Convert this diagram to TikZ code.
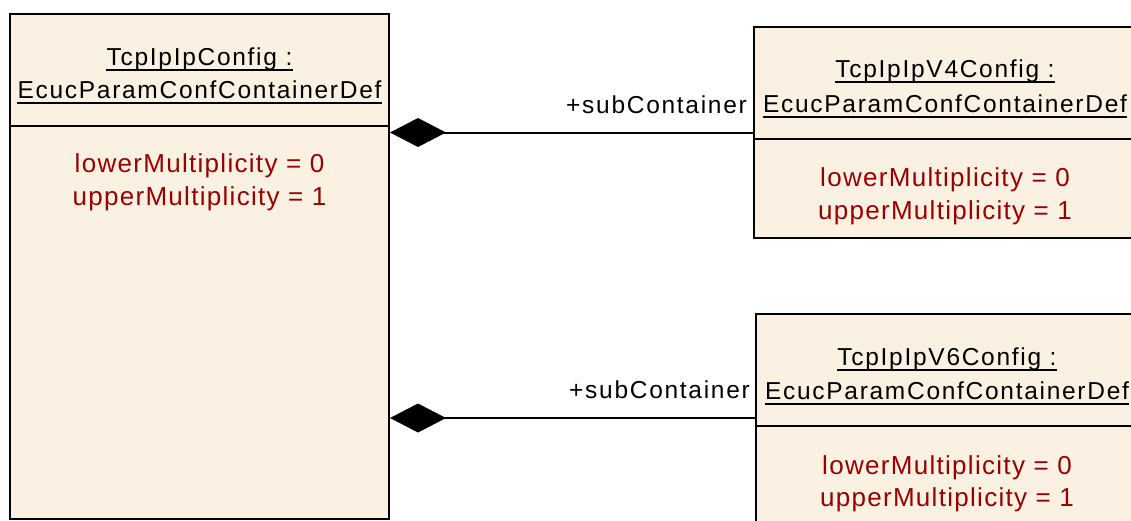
\documentclass[tikz,border=0pt]{standalone}
\usepackage{fontspec}
\setmainfont{Liberation Sans}[LetterSpace=7]
\newfontfamily\attrfont{Liberation Sans}[LetterSpace=5]
\usetikzlibrary{arrows.meta,calc}
\definecolor{boxfill}{RGB}{251,241,226}
\definecolor{attrred}{RGB}{150,0,0}
\tikzset{
  classbox/.style={draw=black, line width=2pt, fill=boxfill, rectangle, inner sep=0pt, anchor=north west},
  titletext/.style={anchor=base, inner sep=0pt, font=\fontsize{24.5}{28}\selectfont, text=black},
  attrtext/.style={anchor=base, inner sep=0pt, font=\attrfont\fontsize{26}{30}\selectfont, text=attrred},
  uline/.style={line width=1.5pt},
  sepline/.style={line width=2pt},
  comp/.style={line width=2pt, {Diamond[length=56pt,width=29pt]}-},
  rolelabel/.style={anchor=base east, inner sep=0pt, font=\fontsize{24.5}{28}\selectfont, text=black},
}
\begin{document}
\begin{tikzpicture}[x=1pt,y=-1pt]
\useasboundingbox (0,0) rectangle (1131,520);
\fill[white] (0,0) rectangle (1131,520);

% left class
\node[classbox, minimum width=379pt, minimum height=505pt] (L) at (9,13) {};
\draw[sepline] ([yshift=-113pt]L.north west) -- ([yshift=-113pt]L.north east);
\node[titletext] (Lt1) at ([yshift=-52pt]L.north) {TcpIpIpConfig :};
\node[titletext] (Lt2) at ([yshift=-85pt]L.north) {EcucParamConfContainerDef};
\draw[uline] ([yshift=-5pt]Lt1.base west) -- ([yshift=-5pt]Lt1.base east);
\draw[uline] ([yshift=-5pt]Lt2.base west) -- ([yshift=-5pt]Lt2.base east);
\node[attrtext] (La1) at ([yshift=-159pt]L.north) {lowerMultiplicity = 0};
\node[attrtext] (La2) at ([yshift=-192pt]L.north) {upperMultiplicity = 1};

% V4 class
\node[classbox, minimum width=382pt, minimum height=211pt] (V4) at (753,26) {};
\draw[sepline] ([yshift=-113pt]V4.north west) -- ([yshift=-113pt]V4.north east);
\node[titletext] (V4t1) at ([yshift=-51pt]V4.north) {TcpIpIpV4Config :};
\node[titletext] (V4t2) at ([yshift=-86pt]V4.north) {EcucParamConfContainerDef};
\draw[uline] ([yshift=-5pt]V4t1.base west) -- ([yshift=-5pt]V4t1.base east);
\draw[uline] ([yshift=-5pt]V4t2.base west) -- ([yshift=-5pt]V4t2.base east);
\node[attrtext] (V4a1) at ([yshift=-160pt]V4.north) {lowerMultiplicity = 0};
\node[attrtext] (V4a2) at ([yshift=-193pt]V4.north) {upperMultiplicity = 1};

% V6 class
\node[classbox, minimum width=382pt, minimum height=208pt] (V6) at (755,313) {};
\draw[sepline] ([yshift=-113pt]V6.north west) -- ([yshift=-113pt]V6.north east);
\node[titletext] (V6t1) at ([yshift=-52pt]V6.north) {TcpIpIpV6Config :};
\node[titletext] (V6t2) at ([yshift=-86pt]V6.north) {EcucParamConfContainerDef};
\draw[uline] ([yshift=-5pt]V6t1.base west) -- ([yshift=-5pt]V6t1.base east);
\draw[uline] ([yshift=-5pt]V6t2.base west) -- ([yshift=-5pt]V6t2.base east);
\node[attrtext] (V6a1) at ([yshift=-161pt]V6.north) {lowerMultiplicity = 0};
\node[attrtext] (V6a2) at ([yshift=-193pt]V6.north) {upperMultiplicity = 1};

% connectors
\draw[comp] (L.east |- V4.west) -- (V4.west);
\draw[comp] (L.east |- V6.west) -- (V6.west);
\node[rolelabel] (r1) at ([xshift=-6pt,yshift=19pt]V4.west) {+subContainer};
\node[rolelabel] (r2) at ([xshift=-5pt,yshift=20pt]V6.west) {+subContainer};
\end{tikzpicture}
\end{document}
